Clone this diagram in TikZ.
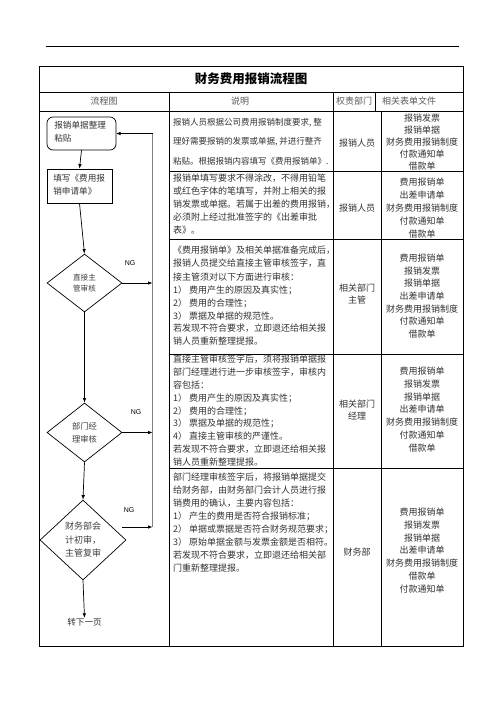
\documentclass[tikz,border=0pt]{standalone}
\usepackage{fontspec}
\newfontfamily\cjk{Noto Sans CJK SC}
\newfontfamily\lat{Liberation Sans}
\usetikzlibrary{shapes.geometric,arrows.meta}
\begin{document}
\begin{tikzpicture}[x=1pt,y=-1pt,
  txt/.style={inner sep=0pt, font=\cjk\fontsize{9}{9}\selectfont, text=black!80},
  desc/.style={txt, anchor=west},
  descs/.style={desc, font=\cjk\fontsize{8.5}{8.5}\selectfont},
  ctr/.style={txt, anchor=center},
  hdr/.style={txt, anchor=center, text=black!65},
  grid/.style={line width=0.7pt, draw=black},
  outer/.style={line width=1pt, draw=black},
  flow/.style={line width=0.7pt, draw=black, -{Latex[length=4.5pt,width=3.6pt]}},
  plain/.style={line width=0.7pt, draw=black},
  retline/.style={line width=1.5pt, draw=black!50},
  box/.style={draw=black, line width=0.7pt, inner sep=0pt, font=\cjk\fontsize{8.6}{13}\selectfont, text=black!80, align=left},
  dia/.style={diamond, draw=black, line width=0.7pt, inner sep=0pt, align=center, text=black!75},
  ng/.style={inner sep=0pt, font=\lat\fontsize{7}{7}\selectfont}
]
\useasboundingbox (0,0) rectangle (496,702);
\fill[white] (0,0) rectangle (496,702);

% top rule
\draw[line width=0.7pt] (46,46) -- (459,46);

% table
\draw[outer] (39,66.5) rectangle (463,646);
\draw[grid] (39,92) -- (463,92);
\draw[grid] (39,111) -- (463,111);
\draw[grid] (169,92) -- (169,646);
\draw[grid] (333,92) -- (333,646);
\draw[grid] (375,92) -- (375,111);
\draw[grid] (381,111) -- (381,646);
\foreach \yy in {171,239.5,354,468} \draw[grid] (169,\yy) -- (463,\yy);

% title and header
\node[inner sep=0pt, font=\cjk\bfseries\fontsize{12.5}{12.5}\selectfont] (title) at (251,79) {财务费用报销流程图};
\node[hdr] (h1) at (104,101.5) {流程图};
\node[hdr] (h2) at (240,101.5) {说明};
\node[hdr] (h3) at (354,101.5) {权责部门};
\node[hdr] (h4) at (409,101.5) {相关表单文件};

% row 1 description
\node[descs] (a1) at (173,123) {报销人员根据公司费用报销制度要求, 整};
\node[descs] (a2) at (173,142) {理好需要报销的发票或单据, 并进行整齐};
\node[descs] (a3) at (173,161) {粘贴。根据报销内容填写《费用报销单》.};
% row 2
\node[desc] (b1) at (173,178) {报销单填写要求不得涂改，不得用铅笔};
\node[desc] (b2) at (173,191) {或红色字体的笔填写，并附上相关的报};
\node[desc] (b3) at (173,204) {销发票或单据。若属于出差的费用报销，};
\node[desc] (b4) at (173,217) {必须附上经过批准签字的《出差审批};
\node[desc] (b5) at (173,230) {表》。};
% row 3
\node[desc] (c1) at (173,250) {《费用报销单》及相关单据准备完成后，};
\node[desc] (c2) at (173,263) {报销人员提交给直接主管审核签字，直};
\node[desc] (c3) at (173,277) {接主管须对以下方面进行审核：};
\node[desc] (c4) at (173,290) {1） 费用产生的原因及真实性；};
\node[desc] (c5) at (173,303) {2） 费用的合理性；};
\node[desc] (c6) at (173,316) {3） 票据及单据的规范性。};
\node[desc] (c7) at (173,328) {若发现不符合要求，立即退还给相关报};
\node[desc] (c8) at (173,341) {销人员重新整理提报。};
% row 4
\node[desc] (e1) at (173,359) {直接主管审核签字后，须将报销单据报};
\node[desc] (e2) at (173,372) {部门经理进行进一步审核签字，审核内};
\node[desc] (e3) at (173,385) {容包括：};
\node[desc] (e4) at (173,398) {1） 费用产生的原因及真实性；};
\node[desc] (e5) at (173,411) {2） 费用的合理性；};
\node[desc] (e6) at (173,423) {3） 票据及单据的规范性；};
\node[desc] (e7) at (173,436) {4） 直接主管审核的严谨性。};
\node[desc] (e8) at (173,449) {若发现不符合要求，立即退还给相关报};
\node[desc] (e9) at (173,462) {销人员重新整理提报。};
% row 5
\node[desc] (f1) at (173,477) {部门经理审核签字后，将报销单据提交};
\node[desc] (f2) at (173,490) {给财务部，由财务部门会计人员进行报};
\node[desc] (f3) at (173,503) {销费用的确认，主要内容包括：};
\node[desc] (f4) at (173,516) {1） 产生的费用是否符合报销标准；};
\node[desc] (f5) at (173,529) {2） 单据或票据是否符合财务规范要求；};
\node[desc] (f6) at (173,542) {3） 原始单据金额与发票金额是否相符。};
\node[desc] (f7) at (173,555) {若发现不符合要求，立即退还给相关部};
\node[desc] (f8) at (173,568) {门重新整理提报。};

% responsible departments
\node[ctr] (p1) at (357,143) {报销人员};
\node[ctr] (p2) at (357,208) {报销人员};
\node[ctr, align=center, font=\cjk\fontsize{9}{12.5}\selectfont] (p3) at (357,294) {相关部门\\主管};
\node[ctr, align=center, font=\cjk\fontsize{9}{12.5}\selectfont] (p4) at (357,410) {相关部门\\经理};
\node[ctr, align=center] (p5) at (357,552) {财务部};

% related forms
\node[ctr, align=center, font=\cjk\fontsize{9}{12}\selectfont] (l1) at (422,142.5) {报销发票\\报销单据\\财务费用报销制度\\付款通知单\\借款单};
\node[ctr, align=center, font=\cjk\fontsize{9}{13}\selectfont] (l2) at (422,208) {费用报销单\\出差申请单\\财务费用报销制度\\付款通知单\\借款单};
\node[ctr, align=center, font=\cjk\fontsize{9}{12.7}\selectfont] (l3) at (422,296) {费用报销单\\报销发票\\报销单据\\出差申请单\\财务费用报销制度\\付款通知单\\借款单};
\node[ctr, align=center, font=\cjk\fontsize{9}{12.8}\selectfont] (l4) at (422,409.5) {费用报销单\\报销发票\\报销单据\\出差申请单\\财务费用报销制度\\付款通知单\\借款单};
\node[ctr, align=center, font=\cjk\fontsize{9}{12.8}\selectfont] (l5) at (422,550.5) {费用报销单\\报销发票\\报销单据\\出差申请单\\财务费用报销制度\\借款单\\付款通知单};

% flowchart
\draw[box, rounded corners=6pt] (47,117) rectangle (116,150);
\node[box, draw=none, anchor=north west, text width=62pt] (n1t) at (54,121) {报销单据整理\\粘贴};
\node[draw=none, inner sep=0pt, minimum width=69pt, minimum height=33pt] (n1) at (81.5,133.5) {};
\node[box, minimum width=65pt, minimum height=34pt] (n2) at (79.5,186) {};
\node[box, draw=none, anchor=north west] (n2t) at (53,174) {填写《费用报\\销申请单》};

\node[dia, minimum width=75pt, minimum height=58pt, font=\cjk\fontsize{7.6}{11.5}\selectfont] (d1) at (84.5,283) {直接主\\管审核};
\node[dia, minimum width=75pt, minimum height=59pt, font=\cjk\fontsize{8.3}{13}\selectfont] (d2) at (84.5,432.5) {部门经\\理审核};
\node[dia, minimum width=86pt, minimum height=80pt, font=\cjk\fontsize{9}{13.5}\selectfont] (d3) at (83,540) {财务部会\\计初审，\\主管复审};
\node[txt, font=\cjk\fontsize{8.6}{8.6}\selectfont] (end) at (84.5,622) {转下一页};

\draw[flow] (n1.south) -- (n2.north);
\draw[flow] (n2.south) -- (d1.north);
\draw[flow] (d1.south) -- (d2.north);
\draw[flow] (d2.south) -- (d3.north);
\draw[flow] (d3.south) -- (end.north);

\coordinate (r1) at (152.5,283);
\coordinate (r2) at (152.5,432.5);
\coordinate (r3) at (152.5,527);
\coordinate (s3) at (122,527);
\coordinate (rtop) at (152.5,133.5);
\draw[retline] (r3) -- (rtop);
\draw[flow] (rtop) -- (n1.east);
\draw[flow] (d1.east) -- (r1);
\draw[flow] (d2.east) -- (r2);
\draw[flow] (s3) -- (r3);

\node[ng] (ng1) at (130,263) {NG};
\node[ng] (ng2) at (136,412) {NG};
\node[ng] (ng3) at (129,510) {NG};
\end{tikzpicture}
\end{document}
